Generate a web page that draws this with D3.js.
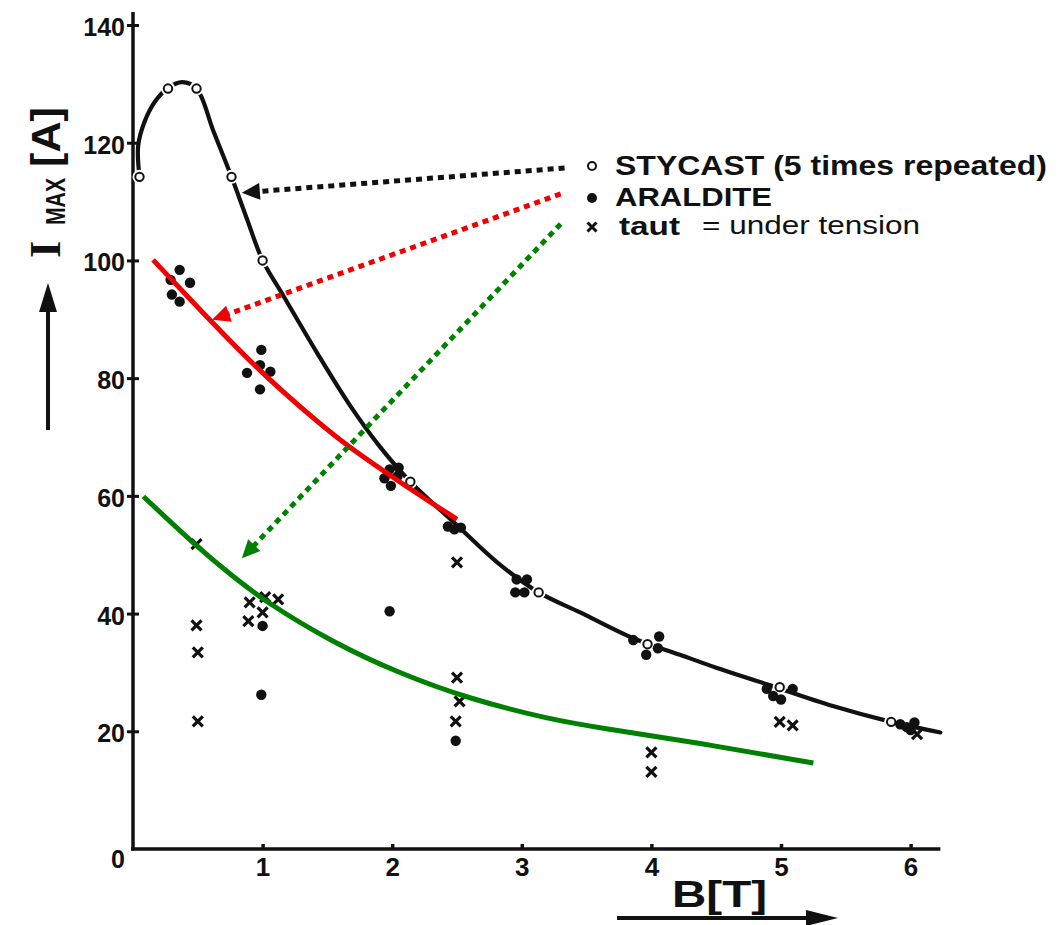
<!DOCTYPE html>
<html>
<head>
<meta charset="utf-8">
<script src="https://cdn.jsdelivr.net/npm/d3@7"></script>
<style>
    body { margin: 0; background: #fff; }
    text { font-family: "Liberation Sans", Arial, sans-serif; fill: #111; }
</style>
</head>
<body>
<svg id="chart" width="1063" height="925"></svg>
<script>

// STYCAST measurements (open circles), [B in T, I_max in A]
let stycast = [
    [0.05, 114.2], [0.27, 129.2], [0.49, 129.2], [0.76, 114.2], [1.0, 100],
    [2.14, 62.4], [3.13, 43.6], [3.97, 34.8], [4.99, 27.5], [5.85, 21.6]
];

// hand drawn fit through the STYCAST points
let stycastCurve = [
    [0.05, 114.2], [0.04, 119.5], [0.09, 123.6], [0.17, 127], [0.27, 129.3],
    [0.38, 130.3], [0.49, 129.2], [0.62, 122], [0.76, 114.2], [0.88, 107],
    [1.0, 100], [1.16, 94], [1.42, 84.3], [1.67, 75.5], [1.9, 68.5],
    [2.14, 62.4], [2.5, 55], [2.81, 48.7], [3.13, 43.6], [3.45, 40.2],
    [3.86, 35.8], [4.22, 33], [4.5, 30.8], [4.89, 28], [5.4, 24.3],
    [5.85, 21.6], [6.23, 19.8]
];

// ARALDITE (filled dots)
let araldite = [
    [0.36, 98.4], [0.44, 96.2], [0.29, 96.7], [0.30, 94.2], [0.36, 93],
    [0.99, 84.8], [0.88, 80.9], [0.98, 82.2], [1.06, 81.1], [0.98, 78.1],
    [1.98, 64.5], [2.05, 64.8], [1.94, 63], [1.99, 61.7], [2.04, 63.3],
    [2.43, 54.8], [2.48, 54.3], [2.53, 54.6],
    [2.96, 45.8], [3.04, 45.8], [2.95, 43.6], [3.02, 43.6],
    [3.86, 35.5], [4.06, 36.1], [3.96, 33], [4.05, 34.1],
    [4.89, 27.2], [4.94, 26], [5.0, 25.4], [5.09, 27.2],
    [5.92, 21.2], [5.97, 20.7], [6.03, 21.5], [6.0, 20.2],
    [1.98, 40.4], [0.99, 26.2], [1.0, 37.9], [2.49, 18.4]
];

// taut = under tension (crosses)
let taut = [
    [0.49, 51.8], [0.49, 38.0], [0.5, 33.4], [0.5, 21.7],
    [0.9, 41.9], [1.02, 42.8], [1.12, 42.4], [1.0, 40.2], [0.89, 38.7],
    [2.5, 48.7], [2.5, 29.1], [2.52, 25.1], [2.49, 21.7],
    [4.0, 16.4], [4.0, 13.1],
    [4.99, 21.6], [5.09, 21.0],
    [6.05, 19.5]
];

// coloured overlay curves
let redCurve = [
    [0.155, 100.1], [0.59, 89.9], [0.98, 81.1], [1.42, 72.6], [1.67, 68.2],
    [2.06, 62.3], [2.5, 56]
];
let greenCurve = [
    [0.08, 59.9], [0.49, 51.4], [0.77, 46.3], [1.03, 41.9], [1.54, 35.1],
    [2.06, 29.8], [2.58, 25.6], [3.22, 22.0], [3.6, 20.6],
    [4.37, 18.0], [5.25, 14.6]
];

// dotted pointer arrows from the legend, [from, to] in data units
let pointers = [
    {"from": [3.33, 115.7], "to": [0.84, 111.5], "color": "#111"},
    {"from": [3.30, 111.3], "to": [0.61, 89.9], "color": "#f00000"},
    {"from": [3.30, 106.2], "to": [0.84, 49.4], "color": "#008000"}
];

let xTicks = [1, 2, 3, 4, 5, 6];
let yTicks = [0, 20, 40, 60, 80, 100, 120, 140];

let svg = d3.select("#chart");
svg.append("rect").attr("width", 1063).attr("height", 925).attr("fill", "#fff");

let x = d3.scaleLinear().domain([0, 6]).range([133, 910.6]);
let y = d3.scaleLinear().domain([0, 140]).range([849, 25]);

// axes
let gx = svg.append("g")
    .attr("transform", "translate(0," + y(0) + ")")
    .call(d3.axisBottom(x).tickValues(xTicks).tickFormat(d3.format("d"))
        .tickSizeInner(-5).tickSizeOuter(0).tickPadding(9));
gx.select(".domain").remove();
gx.selectAll("line").attr("stroke", "#111").attr("stroke-width", 3.5);
gx.selectAll("text").style("font-size", "26px").style("font-weight", "bold");

let gy = svg.append("g")
    .attr("transform", "translate(" + x(0) + ",0)")
    .call(d3.axisLeft(y).tickValues(yTicks).tickSize(6).tickPadding(2));
gy.select(".domain").remove();
gy.selectAll("line").attr("x1", -6).attr("x2", 6)
    .attr("stroke", "#111").attr("stroke-width", 3);
gy.selectAll("text").style("font-size", "25px").style("font-weight", "bold")
    .attr("dy", d => d === 0 ? "0.75em" : "0.42em");
gy.selectAll(".tick").filter(d => d === 0).select("line").remove();

svg.append("line")
    .attr("x1", x(0) - 2).attr("x2", x(6.23))
    .attr("y1", y(0)).attr("y2", y(0))
    .attr("stroke", "#111").attr("stroke-width", 3.5);
svg.append("line")
    .attr("x1", x(0)).attr("x2", x(0))
    .attr("y1", y(0) + 1.5).attr("y2", y(142.2))
    .attr("stroke", "#111").attr("stroke-width", 3.5);

// axis titles and their arrows
let yLab = svg.append("g").attr("transform", "translate(60,258) rotate(-90)");
yLab.append("text").text("I")
    .style("font-family", "'Liberation Serif', serif")
    .style("font-weight", "bold").style("font-size", "44px");
yLab.append("text").text("MAX").attr("x", 33).attr("y", 5)
    .attr("textLength", 47).attr("lengthAdjust", "spacingAndGlyphs")
    .style("font-weight", "bold").style("font-size", "28px");
yLab.append("text").text("[A]").attr("x", 91).attr("y", 0)
    .attr("textLength", 60).attr("lengthAdjust", "spacingAndGlyphs")
    .style("font-weight", "bold").style("font-size", "40px");

svg.append("line").attr("x1", 48).attr("x2", 48).attr("y1", 430).attr("y2", 305)
    .attr("stroke", "#111").attr("stroke-width", 4);
svg.append("path").attr("d", "M48,283L39,312L57,312Z").attr("fill", "#111");

svg.append("text").text("B[T]").attr("x", 672).attr("y", 907)
    .attr("textLength", 95).attr("lengthAdjust", "spacingAndGlyphs")
    .style("font-weight", "bold").style("font-size", "37px");
svg.append("line").attr("x1", 617).attr("x2", 812).attr("y1", 918).attr("y2", 918)
    .attr("stroke", "#111").attr("stroke-width", 4);
svg.append("path").attr("d", "M838,918L806,910L806,926Z").attr("fill", "#111");

// STYCAST fit curve
let line = d3.line()
    .x(d => x(d[0]))
    .y(d => y(d[1]))
    .curve(d3.curveCatmullRom.alpha(0.5));

svg.append("path").datum(stycastCurve)
    .attr("d", line)
    .attr("fill", "none").attr("stroke", "#111")
    .attr("stroke-width", 4.2).attr("stroke-linecap", "round");

// little white gaps round the open circles, as in the drawing
svg.append("g").selectAll("circle")
    .data(stycast).enter().append("circle")
    .attr("cx", d => x(d[0])).attr("cy", d => y(d[1]))
    .attr("r", 7).attr("fill", "#fff");

svg.append("g").selectAll("circle")
    .data(stycast).enter().append("circle")
    .attr("cx", d => x(d[0])).attr("cy", d => y(d[1]))
    .attr("r", 4.2).attr("fill", "#fff")
    .attr("stroke", "#111").attr("stroke-width", 2);

svg.append("g").selectAll("circle")
    .data(araldite).enter().append("circle")
    .attr("cx", d => x(d[0])).attr("cy", d => y(d[1]))
    .attr("r", 5.2).attr("fill", "#111");

let crossPath = function (cx, cy, h) {
    return "M" + (cx - h) + "," + (cy - h) + "L" + (cx + h) + "," + (cy + h) +
        "M" + (cx + h) + "," + (cy - h) + "L" + (cx - h) + "," + (cy + h);
};

svg.append("g").selectAll("path")
    .data(taut).enter().append("path")
    .attr("d", d => crossPath(x(d[0]), y(d[1]), 5))
    .attr("stroke", "#111").attr("stroke-width", 3.2).attr("fill", "none");

// red and green overlay fits
let smooth = d3.line()
    .x(d => x(d[0]))
    .y(d => y(d[1]))
    .curve(d3.curveBasis);

svg.append("path").datum(redCurve)
    .attr("d", smooth)
    .attr("fill", "none").attr("stroke", "#f00000").attr("stroke-width", 5);
svg.append("path").datum(greenCurve)
    .attr("d", smooth)
    .attr("fill", "none").attr("stroke", "#008000").attr("stroke-width", 5);

// dotted pointer arrows
pointers.forEach(function (p) {
    let x1 = x(p.from[0]), y1 = y(p.from[1]),
        x2 = x(p.to[0]), y2 = y(p.to[1]),
        len = Math.hypot(x2 - x1, y2 - y1),
        ux = (x2 - x1) / len, uy = (y2 - y1) / len,
        hl = 18, hw = 8.5,
        bx = x2 - ux * hl, by = y2 - uy * hl;
    svg.append("line")
        .attr("x1", x1).attr("y1", y1).attr("x2", bx + ux * 2).attr("y2", by + uy * 2)
        .attr("stroke", p.color).attr("stroke-width", 5)
        .attr("stroke-dasharray", "6,5");
    svg.append("path")
        .attr("d", "M" + x2 + "," + y2 +
            "L" + (bx - uy * hw) + "," + (by + ux * hw) +
            "L" + (bx + uy * hw) + "," + (by - ux * hw) + "Z")
        .attr("fill", p.color);
});

// legend
let legend = svg.append("g");
legend.append("circle").attr("cx", 592).attr("cy", 166).attr("r", 4)
    .attr("fill", "#fff").attr("stroke", "#111").attr("stroke-width", 2);
legend.append("circle").attr("cx", 592).attr("cy", 198).attr("r", 5).attr("fill", "#111");
legend.append("path").attr("d", crossPath(592, 227, 4.5))
    .attr("stroke", "#111").attr("stroke-width", 3).attr("fill", "none");

legend.append("text").text("STYCAST (5 times repeated)").attr("x", 615).attr("y", 175)
    .attr("textLength", 432).attr("lengthAdjust", "spacingAndGlyphs")
    .style("font-weight", "bold").style("font-size", "27px");
legend.append("text").text("ARALDITE").attr("x", 615).attr("y", 206)
    .attr("textLength", 157).attr("lengthAdjust", "spacingAndGlyphs")
    .style("font-weight", "bold").style("font-size", "25px");
legend.append("text").text("taut").attr("x", 619).attr("y", 235)
    .attr("textLength", 61).attr("lengthAdjust", "spacingAndGlyphs")
    .style("font-weight", "bold").style("font-size", "25px");
legend.append("text").text("= under tension").attr("x", 702).attr("y", 234)
    .attr("textLength", 218).attr("lengthAdjust", "spacingAndGlyphs")
    .style("font-size", "25px");

</script>
</body>
</html>
